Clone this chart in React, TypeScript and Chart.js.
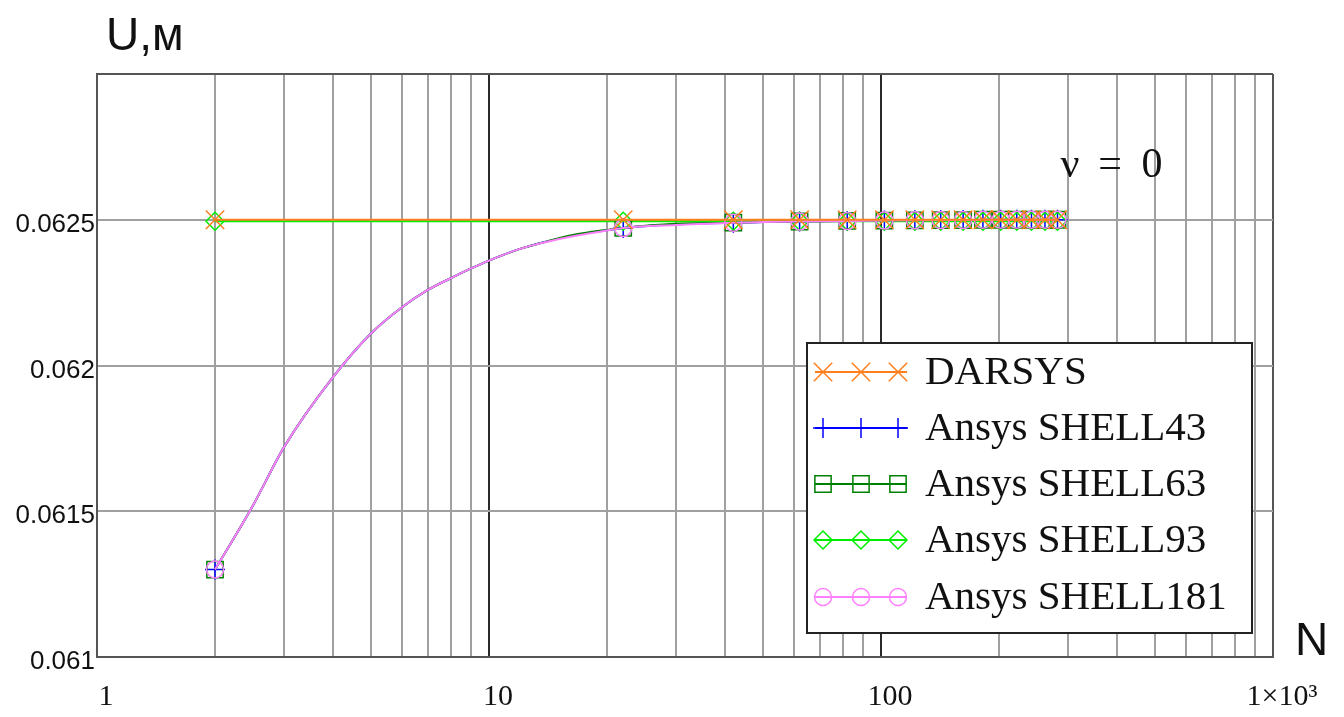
import React, { useEffect, useRef } from 'react';
import { Chart, registerables } from 'chart.js';

Chart.register(...registerables);

// ---------- data ----------
const markerN = [2, 22, 42, 62, 82, 102, 122, 142, 162, 182, 202, 222, 242, 262, 282];
const darsysU = [0.0625, 0.0625, 0.0625, 0.0625, 0.0625, 0.0625, 0.0625, 0.0625, 0.0625, 0.0625, 0.0625, 0.0625, 0.0625, 0.0625, 0.0625];
const shell93U = [0.062495, 0.062495, 0.062495, 0.062495, 0.062495, 0.062495, 0.062495, 0.062495, 0.062495, 0.062495, 0.062495, 0.062495, 0.062495, 0.062495, 0.062495];

const curveN = [2, 2.5, 3, 4, 5, 6, 7, 8, 9, 10, 12, 14, 16, 18, 20, 22, 30, 42, 50, 62, 82, 102, 122, 142, 162, 182, 202, 222, 242, 262, 282];
const shell43U = [0.0613, 0.06152, 0.06172, 0.06196, 0.06211, 0.0622, 0.06226, 0.0623, 0.062333, 0.06236, 0.0624, 0.062425, 0.062443, 0.062455, 0.062464, 0.062472, 0.062484, 0.06249, 0.062492, 0.062494, 0.062496, 0.062497, 0.062498, 0.062499, 0.062499, 0.0625, 0.0625, 0.0625, 0.0625, 0.0625, 0.0625];
const shell63U = [0.0613, 0.06152, 0.06172, 0.06196, 0.06211, 0.0622, 0.06226, 0.0623, 0.062333, 0.06236, 0.0624, 0.062425, 0.062445, 0.062457, 0.062465, 0.062472, 0.062486, 0.06249, 0.062492, 0.062494, 0.062496, 0.062497, 0.062498, 0.062499, 0.062499, 0.0625, 0.0625, 0.0625, 0.0625, 0.0625, 0.0625];
const shell181U = [0.0613, 0.06152, 0.06172, 0.06196, 0.06211, 0.0622, 0.06226, 0.0623, 0.062333, 0.06236, 0.0624, 0.062424, 0.062441, 0.062453, 0.062463, 0.062472, 0.062482, 0.06249, 0.062492, 0.062494, 0.062496, 0.062497, 0.062498, 0.062499, 0.062499, 0.0625, 0.0625, 0.0625, 0.0625, 0.0625, 0.0625];

const seriesNames = ['DARSYS', 'Ansys SHELL43', 'Ansys SHELL63', 'Ansys SHELL93', 'Ansys SHELL181'];
const seriesColors = ['#ff7f1e', '#0000ff', '#008000', '#00ee00', '#ff80ff'];
const seriesMarkers = ['crossRot', 'cross', 'rect', 'rectRot', 'circle'];
const markerRadii = [13, 10, 11.5, 9, 8.5];
const drawOrder = [0, 4, 2, 3, 1];

const xGridValues = [1, 2, 3, 4, 5, 6, 7, 8, 9, 10, 20, 30, 40, 50, 60, 70, 80, 90, 100, 200, 300, 400, 500, 600, 700, 800, 900, 1000];
const xLabelValues = [1, 10, 100, 1000];
const xLabelTexts = ['1', '10', '100', '1×10³'];

const yTickValues = [0.061, 0.0615, 0.062, 0.0625, 0.063];
const yTickLabels = ['0.061', '0.0615', '0.062', '0.0625', ''];

// ---------- helpers ----------
function drawMarker(ctx: CanvasRenderingContext2D, style: string, x: number, y: number, r: number, color: string) {
  ctx.save();
  ctx.strokeStyle = color;
  ctx.lineWidth = 1.5;
  ctx.beginPath();
  const a = r * Math.SQRT1_2;
  if (style === 'crossRot') {
    ctx.moveTo(x - a, y - a); ctx.lineTo(x + a, y + a);
    ctx.moveTo(x - a, y + a); ctx.lineTo(x + a, y - a);
  } else if (style === 'cross') {
    ctx.moveTo(x, y - r); ctx.lineTo(x, y + r);
    ctx.moveTo(x - r, y); ctx.lineTo(x + r, y);
  } else if (style === 'rect') {
    ctx.rect(x - a, y - a, 2 * a, 2 * a);
  } else if (style === 'rectRot') {
    ctx.moveTo(x - r, y); ctx.lineTo(x, y - r); ctx.lineTo(x + r, y); ctx.lineTo(x, y + r); ctx.closePath();
  } else {
    ctx.arc(x, y, r, 0, Math.PI * 2);
  }
  ctx.stroke();
  ctx.restore();
}

const overlayPlugin = {
  id: 'overlay',
  afterDraw(chart: any) {
    const ctx: CanvasRenderingContext2D = chart.ctx;
    ctx.save();
    // axis titles
    ctx.fillStyle = '#111';
    ctx.textBaseline = 'alphabetic';
    ctx.textAlign = 'left';
    ctx.font = '46px "Liberation Sans"';
    ctx.fillText('U,м', 106, 50);
    ctx.fillText('N', 1295, 655);
    // annotation
    ctx.font = '42px "Liberation Serif"';
    ctx.textAlign = 'center';
    ctx.fillText('ν', 1070, 177);
    ctx.fillText('=', 1110, 177);
    ctx.fillText('0', 1152, 177);

    // legend
    const bx = 807, by = 343, bw = 445, bh = 290;
    ctx.fillStyle = '#ffffff';
    ctx.fillRect(bx, by, bw, bh);
    ctx.strokeStyle = '#222';
    ctx.lineWidth = 2;
    ctx.strokeRect(bx, by, bw, bh);
    const rowY = [372, 428, 484, 540, 597];
    const mx = [823, 861, 898];
    seriesNames.forEach((name, i) => {
      const y = rowY[i];
      ctx.strokeStyle = seriesColors[i];
      ctx.lineWidth = 2;
      ctx.beginPath();
      ctx.moveTo(815, y);
      ctx.lineTo(907, y);
      ctx.stroke();
      mx.forEach((x) => drawMarker(ctx, seriesMarkers[i], x, y, markerRadii[i], seriesColors[i]));
      ctx.fillStyle = '#111';
      ctx.textAlign = 'left';
      ctx.font = '41px "Liberation Serif"';
      ctx.fillText(name, 925, y + 12);
    });
    ctx.restore();
  },
};

function makeDataset(i: number, xs: number[], ys: number[], curved: boolean) {
  return {
    label: seriesNames[i],
    data: xs.map((x, k) => ({ x, y: ys[k] })),
    order: drawOrder[i],
    borderColor: seriesColors[i],
    borderWidth: 2,
    pointStyle: seriesMarkers[i],
    pointBorderColor: seriesColors[i],
    pointBackgroundColor: 'rgba(0,0,0,0)',
    pointBorderWidth: 1.5,
    pointRadius: (c: any) => (c.raw && markerN.includes(c.raw.x) ? markerRadii[i] : 0),
    cubicInterpolationMode: curved ? 'monotone' : 'default',
    fill: false,
  };
}

export default function App() {
  const ref = useRef<HTMLCanvasElement | null>(null);
  useEffect(() => {
    if (!ref.current) return;
    const chart = new Chart(ref.current, {
      type: 'line',
      data: {
        datasets: [
          makeDataset(0, markerN, darsysU, false),
          makeDataset(1, curveN, shell43U, true),
          makeDataset(2, curveN, shell63U, true),
          makeDataset(3, markerN, shell93U, false),
          makeDataset(4, curveN, shell181U, true),
        ] as any,
      },
      options: {
        animation: false,
        responsive: false,
        events: [],
        layout: { padding: { left: 0, right: 71, top: 74, bottom: 0 } },
        plugins: { legend: { display: false }, tooltip: { enabled: false } },
        scales: {
          x: {
            type: 'logarithmic',
            min: 1,
            max: 1000,
            afterBuildTicks: (s: any) => { s.ticks = xGridValues.map((v) => ({ value: v })); },
            afterFit: (s: any) => { s.height = 60; },
            grid: {
              color: (c: any) => (c.tick && xLabelValues.includes(c.tick.value) ? (c.tick.value === 1000 ? '#555' : '#2a2a2a') : '#a0a0a0'),
              lineWidth: 2,
              drawTicks: false,
            },
            border: { display: true, color: '#555', width: 2 },
            ticks: {
              autoSkip: false,
              maxRotation: 0,
              minRotation: 0,
              padding: 22,
              labelOffset: 9,
              color: '#111',
              font: { family: 'Liberation Serif', size: 30 },
              callback: (v: any) => {
                const k = xLabelValues.indexOf(Number(v));
                return k >= 0 ? xLabelTexts[k] : '';
              },
            },
          },
          y: {
            type: 'linear',
            min: 0.061,
            max: 0.063,
            afterBuildTicks: (s: any) => { s.ticks = yTickValues.map((v) => ({ value: v })); },
            afterFit: (s: any) => { s.width = 97; },
            grid: {
              color: (c: any) => (c.index === yTickValues.length - 1 ? '#555' : '#a0a0a0'),
              lineWidth: 2,
              drawTicks: false,
            },
            border: { display: true, color: '#555', width: 2 },
            ticks: {
              autoSkip: false,
              padding: 2,
              labelOffset: 5,
              color: '#111',
              font: { family: 'Liberation Sans', size: 26 },
              callback: (_v: any, i: number) => yTickLabels[i],
            },
          },
        },
      } as any,
      plugins: [overlayPlugin],
    });
    return () => chart.destroy();
  }, []);
  return (
    <div style={{ position: 'fixed', left: 0, top: 0, width: 1344, height: 717, background: '#fff' }}>
      <canvas ref={ref} width={1344} height={717} style={{ width: 1344, height: 717 }} />
    </div>
  );
}
